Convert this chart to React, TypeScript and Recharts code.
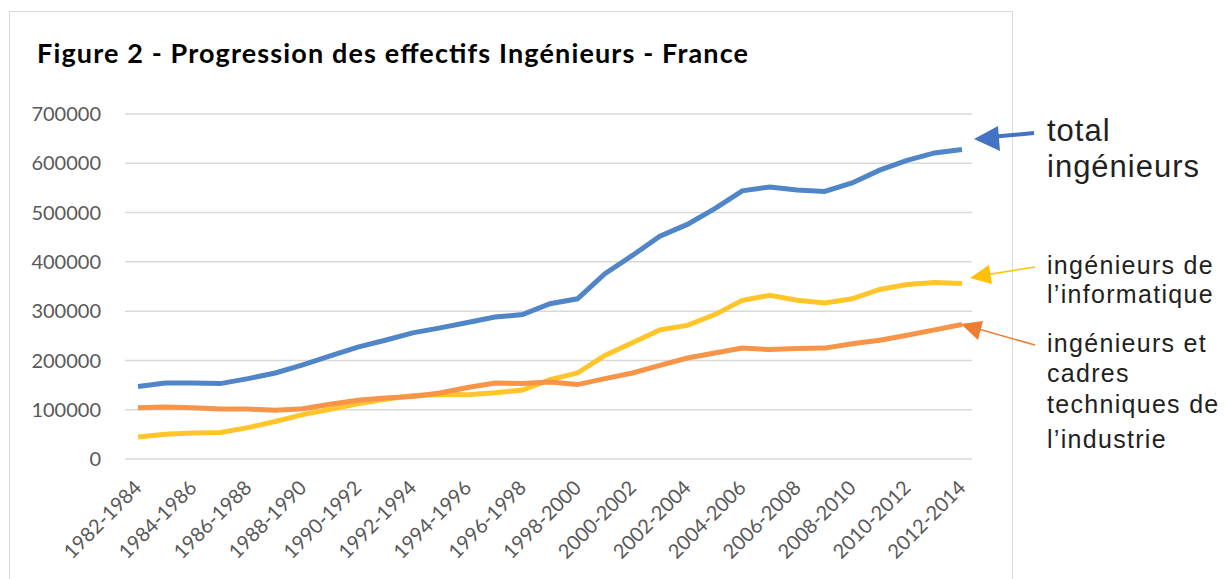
import { CartesianGrid, Line, LineChart, XAxis, YAxis } from "recharts"

const periods = [
  "1982-1984", "1983-1985", "1984-1986", "1985-1987", "1986-1988", "1987-1989",
  "1988-1990", "1989-1991", "1990-1992", "1991-1993", "1992-1994", "1993-1995",
  "1994-1996", "1995-1997", "1996-1998", "1997-1999", "1998-2000", "1999-2001",
  "2000-2002", "2001-2003", "2002-2004", "2003-2005", "2004-2006", "2005-2007",
  "2006-2008", "2007-2009", "2008-2010", "2009-2011", "2010-2012", "2011-2013",
  "2012-2014",
]

const totalIngenieurs = [
  147000, 154000, 154000, 153000, 163000, 174500, 191000, 209000, 227000, 241000,
  256000, 266000, 277000, 288000, 293000, 315000, 325000, 376000, 413000, 452000,
  476000, 508000, 544000, 552000, 546000, 543000, 560000, 586000, 606000, 621000,
  628000,
]

const informatique = [
  44600, 50000, 52800, 54000, 63600, 76000, 90000, 101000, 112000, 121000,
  129000, 131000, 130500, 134600, 140000, 161000, 174500, 210000, 236000, 262000,
  271000, 293000, 322000, 332000, 322000, 316500, 325000, 344000, 354000, 358000,
  356000,
]

const industrie = [
  104000, 105500, 104000, 101400, 101400, 98700, 102000, 111000, 119000, 124000,
  127000, 134000, 145000, 154000, 153000, 156000, 151000, 163000, 174500, 190000,
  205000, 215000, 225000, 222000, 224000, 225000, 234000, 241000, 251000, 262000,
  273000,
]

const yTicks = [0, 100000, 200000, 300000, 400000, 500000, 600000, 700000]

const data = periods.map((p, i) => ({
  period: p,
  total: totalIngenieurs[i],
  info: informatique[i],
  indus: industrie[i],
}))

const tickFont = "Lato, 'Open Sans', sans-serif"
const noteFont = "'Liberation Sans', Arial, sans-serif"

function XTick(props: any) {
  const { x, y, payload } = props
  const tx = x + 5
  const ty = y + 22
  return (
    <text
      x={tx}
      y={ty}
      transform={`rotate(-45 ${tx} ${ty})`}
      textAnchor="end"
      fill="#595959"
      fontSize={20}
      fontFamily={tickFont}
    >
      {payload.value}
    </text>
  )
}

export default function App() {
  return (
    <div style={{ position: "absolute", left: 0, top: 0, width: 1227, height: 579, background: "#fff" }}>
      <div
        style={{
          position: "absolute",
          left: 9,
          top: 11,
          width: 1004,
          height: 600,
          border: "1.5px solid #d9d9d9",
          boxSizing: "border-box",
        }}
      />
      <LineChart
        width={1227}
        height={579}
        data={data}
        margin={{ top: 114, right: 255, bottom: 20, left: 0 }}
        style={{ position: "absolute", left: 0, top: 0 }}
      >
        <text
          x={37}
          y={63}
          fontFamily={tickFont}
          fontWeight={700}
          fontSize={27}
          fill="#000"
          textLength={711}
          lengthAdjust="spacing"
        >
          Figure 2 - Progression des effectifs Ingénieurs - France
        </text>
        <CartesianGrid vertical={false} stroke="#d9d9d9" strokeWidth={1.5} />
        <XAxis
          dataKey="period"
          interval={1}
          axisLine={false}
          tickLine={false}
          padding={{ left: 13, right: 10 }}
          height={100}
          tick={<XTick />}
        />
        <YAxis
          domain={[0, 700000]}
          ticks={yTicks}
          axisLine={false}
          tickLine={false}
          tickSize={0}
          tickMargin={24}
          width={125}
          tick={{ fill: "#595959", fontSize: 20, fontFamily: tickFont }}
        />
        <Line type="linear" dataKey="total" stroke="#5085c8" strokeWidth={5} dot={false} isAnimationActive={false} />
        <Line type="linear" dataKey="info" stroke="#ffc52a" strokeWidth={5} dot={false} isAnimationActive={false} />
        <Line type="linear" dataKey="indus" stroke="#f79447" strokeWidth={5} dot={false} isAnimationActive={false} />
      </LineChart>
      <svg width={1227} height={579} style={{ position: "absolute", left: 0, top: 0, pointerEvents: "none" }}>
        <line x1={990} y1={137} x2={1034} y2={133} stroke="#4472c4" strokeWidth={4} />
        <polygon points="974,139 998,126 1000,151" fill="#4472c4" />
        <line x1={985} y1={275} x2={1035} y2={267} stroke="#ffc000" strokeWidth={1.5} />
        <polygon points="970,278 989,265 992,284" fill="#ffc000" />
        <line x1={975} y1={328} x2={1035} y2={345} stroke="#ed7d31" strokeWidth={1.5} />
        <polygon points="961,324 983,321 978,340" fill="#ed7d31" />
        <g fontFamily={noteFont} fill="#231f20">
          <text x={1047} y={141} fontSize={31} letterSpacing={1}>total</text>
          <text x={1047} y={177} fontSize={31} letterSpacing={1}>ingénieurs</text>
          <text x={1047} y={274} fontSize={25} letterSpacing={1.3}>ingénieurs de</text>
          <text x={1047} y={303} fontSize={25} letterSpacing={1.3}>l’informatique</text>
          <text x={1047} y={352} fontSize={25} letterSpacing={1.3}>ingénieurs et</text>
          <text x={1047} y={382} fontSize={25} letterSpacing={1.3}>cadres</text>
          <text x={1047} y={413} fontSize={25} letterSpacing={1.3}>techniques de</text>
          <text x={1047} y={448} fontSize={25} letterSpacing={1.3}>l’industrie</text>
        </g>
      </svg>
    </div>
  )
}
